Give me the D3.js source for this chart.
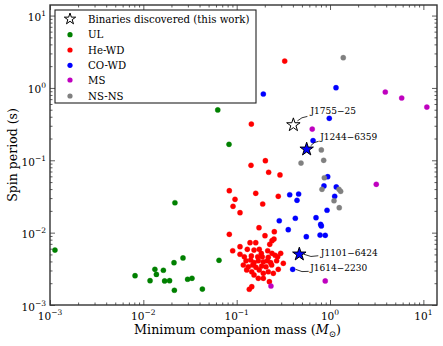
<!DOCTYPE html>
<html><head><meta charset="utf-8">
<script src="https://cdn.jsdelivr.net/npm/d3@7"></script>
<style>
body{margin:0;background:#fff}
svg{display:block}
text{font-family:"DejaVu Serif",serif;fill:#000}
</style>
</head><body>
<svg id="c" width="443" height="346"></svg>
<script>
// ---------------- DATA ----------------
const categories = ["UL", "He-WD", "CO-WD", "MS", "NS-NS"];
const legendTitle = "Binaries discovered (this work)";
const xTickExps = [-3, -2, -1, 0, 1];
const yTickExps = [-3, -2, -1, 0, 1];

const ulMass   = [0.00113,0.00815,0.0118,0.0133,0.0138,0.0164,0.0169,0.0191,0.0213,0.0215,0.0266,0.0298,0.0332,0.0429,0.0647,0.0218,0.0627,0.0828];
const ulPeriod = [0.00575,0.00254,0.00217,0.00311,0.00265,0.00302,0.00215,0.00217,0.00385,0.00160,0.00447,0.00227,0.00234,0.00166,0.00415,0.0259,0.496,0.166];

const heMass = [0.327,0.1436,0.1424,0.203,0.220,0.291,0.0834,0.0960,0.0914,0.1086,0.160,0.190,0.279,0.1734,0.0834,0.201,0.251,
  0.253,0.139,0.160,0.239,0.226,0.0906,0.1086,0.130,0.1534,0.1746,0.1836,0.215,0.239,0.258,0.296,0.1208,0.1436,0.168,0.188,0.218,0.275,
  0.1259,0.1413,0.1534,0.1706,0.193,0.213,0.231,0.268,0.316,0.1178,0.1333,0.1485,0.161,0.1854,0.206,0.237,0.279,0.128,0.145,0.1746,
  0.193,0.218,0.247,0.1534,0.1706,0.193,0.224,0.145,0.1365,0.1086];
const hePeriod = [2.35,0.317,0.0853,0.0987,0.0683,0.0627,0.0380,0.0289,0.0231,0.0189,0.0350,0.0249,0.0318,0.0117,0.00948,0.00908,0.00816,
  0.0103,0.00726,0.00726,0.00774,0.0069,0.00562,0.00503,0.00589,0.00575,0.00589,0.00517,0.00562,0.00517,0.00487,0.00517,0.00464,0.00476,0.00464,0.00464,0.00456,0.00464,
  0.00409,0.00419,0.00385,0.00409,0.00396,0.00409,0.00385,0.00409,0.00377,0.00357,0.00338,0.00357,0.00332,0.00346,0.00338,0.00357,0.00311,0.00305,0.00288,0.00305,
  0.00274,0.00288,0.00274,0.0026,0.00234,0.00234,0.0021,0.00179,0.00165,0.0064];

const coMass   = [0.193,1.159,0.982,0.658,0.944,0.861,1.167,0.370,0.461,0.443,1.122,0.929,0.286,0.425,0.708,0.794,0.807,0.357,0.557,0.782,0.889,0.398];
const coPeriod = [0.824,1.007,0.380,0.187,0.0593,0.0442,0.0428,0.0334,0.0342,0.0280,0.0318,0.0204,0.0146,0.0158,0.0161,0.0130,0.0124,0.0110,0.00879,0.00927,0.00918,0.00311];

const msMass   = [3.91,5.86,10.9,0.645,3.13,0.233,0.889];
const msPeriod = [0.879,0.726,0.544,0.270,0.0466,0.00183,0.00215];

const nsMass   = [1.387,0.807,0.855,0.489,0.869,0.820,1.248,1.30,1.104,1.256];
const nsPeriod = [2.62,0.139,0.100,0.0916,0.0574,0.0397,0.0397,0.0372,0.0276,0.0221];

const newNames  = ["J1755\u221225", "J1244\u22126359", "J1101\u22126424"];
const newMass   = [0.405, 0.562, 0.469];
const newPeriod = [0.308, 0.142, 0.00503];
const newType   = ["unknown", "CO-WD", "CO-WD"];

const annNames  = ["J1755\u221225", "J1244\u22126359", "J1101\u22126424", "J1614\u22122230"];
const annMass   = [0.405, 0.562, 0.469, 0.398];
const annPeriod = [0.308, 0.142, 0.00503, 0.00311];

// ---------------- STYLE / LAYOUT ----------------
const colors = {"UL":"#008000","He-WD":"#ff0000","CO-WD":"#0000ff","MS":"#bf00bf","NS-NS":"#808080","unknown":"#ffffff"};
const annLayout = [
  {tx:17, ty:-10.5, sx:4, sy:-4, ex:14, ey:-8.5, c:-2},
  {tx:13.5, ty:-9, sx:4, sy:-3.5, ex:12, ey:-8, c:-2},
  {tx:21.5, ty:1.5, sx:4.5, sy:0, ex:19, ey:1.5, c:3},
  {tx:17.5, ty:2, sx:3, sy:0, ex:16, ey:2, c:2.5}
];

const L=50, R=437, T=5, B=305;
const x = d3.scaleLog().domain([1e-3, 14]).range([L, R]);
const y = d3.scaleLog().domain([1e-3, 14]).range([B, T]);
const svg = d3.select("#c");

function minorVals(){const v=[];for(let e=-3;e<=1;e++)for(let m=2;m<=9;m++){const t=m*Math.pow(10,e);if(t<=14)v.push(t);}return v;}
const majors = xTickExps.map(e=>Math.pow(10,e));
const minors = minorVals();

const series = [
  {cat:"UL", m:ulMass, p:ulPeriod},
  {cat:"He-WD", m:heMass, p:hePeriod},
  {cat:"CO-WD", m:coMass, p:coPeriod},
  {cat:"MS", m:msMass, p:msPeriod},
  {cat:"NS-NS", m:nsMass, p:nsPeriod}
];
const gPts = svg.append("g");
series.forEach(s=>{
  gPts.append("g").selectAll("circle").data(s.m.map((m,i)=>[m,s.p[i]])).join("circle")
    .attr("cx",d=>x(d[0])).attr("cy",d=>y(d[1])).attr("r",2.6)
    .attr("fill",colors[s.cat]).attr("stroke",colors[s.cat]).attr("stroke-width",0.3);
});

const starBig = d3.symbol().type(d3.symbolStar).size(56);
svg.append("g").selectAll("path").data(newMass.map((m,i)=>[m,newPeriod[i],newType[i]])).join("path")
  .attr("d",starBig).attr("transform",d=>`translate(${x(d[0])},${y(d[1])})`)
  .attr("fill",d=>colors[d[2]]).attr("stroke","#000").attr("stroke-width",1);

const gAnn = svg.append("g");
annNames.forEach((n,i)=>{
  const px=x(annMass[i]), py=y(annPeriod[i]), a=annLayout[i];
  const x0=px+a.sx, y0=py+a.sy, x1=px+a.ex, y1=py+a.ey;
  const mx=(x0+x1)/2, my=(y0+y1)/2;
  const dx=x1-x0, dy=y1-y0, len=Math.hypot(dx,dy);
  const cx=mx - dy/len*a.c, cy=my + dx/len*a.c;
  gAnn.append("path").attr("d",`M${x0},${y0}Q${cx},${cy} ${x1},${y1}`)
    .attr("fill","none").attr("stroke","#000").attr("stroke-width",0.8);
  gAnn.append("text").attr("x",px+a.tx).attr("y",py+a.ty).attr("font-size",9).text(n);
});

function axisG(axisFn, scale, tr, vals, size){
  const g = svg.append("g").attr("transform",tr)
    .call(axisFn(scale).tickValues(vals).tickSize(-size).tickFormat(""));
  g.select(".domain").remove();
  g.selectAll("line").attr("stroke","#333").attr("stroke-width",0.8);
}
[[d3.axisBottom,x,`translate(0,${B})`],[d3.axisTop,x,`translate(0,${T})`],
 [d3.axisLeft,y,`translate(${L},0)`],[d3.axisRight,y,`translate(${R},0)`]].forEach(([f,s,tr])=>{
  axisG(f,s,tr,majors,5);
  axisG(f,s,tr,minors,2.5);
});

svg.append("rect").attr("x",L).attr("y",T).attr("width",R-L).attr("height",B-T)
  .attr("fill","none").attr("stroke","#333").attr("stroke-width",1.4);

const gxl = svg.append("g");
xTickExps.forEach(e=>{
  const t=gxl.append("text").attr("x",x(Math.pow(10,e))).attr("y",B+15).attr("text-anchor","middle").attr("font-size",10.5);
  t.append("tspan").text("10");
  t.append("tspan").attr("dy",-5).attr("font-size",7.5).text(String(e).replace("-","\u2212"));
});
yTickExps.forEach(e=>{
  const t=gxl.append("text").attr("x",46).attr("y",y(Math.pow(10,e))+5.5).attr("text-anchor","end").attr("font-size",10.5);
  t.append("tspan").text("10");
  t.append("tspan").attr("dy",-5).attr("font-size",7.5).text(String(e).replace("-","\u2212"));
});

const xl = svg.append("text").attr("x",237.5).attr("y",334).attr("text-anchor","middle").attr("font-size",12.7);
xl.append("tspan").text("Minimum companion mass (");
xl.append("tspan").attr("font-style","italic").text("M");
xl.append("tspan").attr("dy",3).attr("font-size",8.5).text("\u2299");
xl.append("tspan").attr("dy",-3).text(")");
svg.append("text").attr("transform",`translate(17,${(T+B)/2}) rotate(-90)`).attr("text-anchor","middle")
  .attr("font-size",12.5).text("Spin period (s)");

const lg = svg.append("g");
lg.append("rect").attr("x",55).attr("y",10).attr("width",201).attr("height",93)
  .attr("fill","#fff").attr("stroke","#222").attr("stroke-width",1.1);
const rowsY = [19, 34.7, 50, 65.3, 80, 96];
lg.append("path").attr("d",d3.symbol().type(d3.symbolStar).size(40)).attr("transform",`translate(70,${rowsY[0]})`)
  .attr("fill","#fff").attr("stroke","#000").attr("stroke-width",1);
lg.append("text").attr("x",88).attr("y",rowsY[0]+3.5).attr("font-size",10.2).text(legendTitle);
categories.forEach((c,i)=>{
  lg.append("circle").attr("cx",70).attr("cy",rowsY[i+1]).attr("r",2.6).attr("fill",colors[c]);
  lg.append("text").attr("x",88).attr("y",rowsY[i+1]+3.5).attr("font-size",10.2).text(c);
});
</script>
</body></html>
